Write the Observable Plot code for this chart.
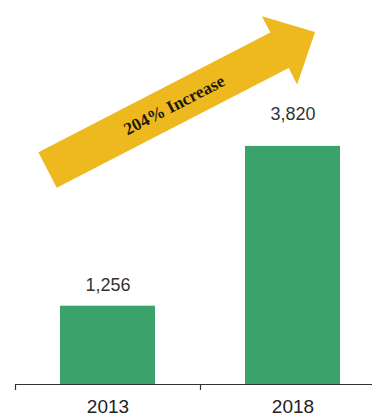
<!DOCTYPE html>
<html>
<head>
<meta charset="utf-8">
<script src="https://cdn.jsdelivr.net/npm/d3@7"></script>
<script src="https://cdn.jsdelivr.net/npm/@observablehq/plot@0.6"></script>
<style>
  html, body { margin: 0; padding: 0; background: #fff; }
  #chart svg { display: block; }
</style>
</head>
<body>
<div id="chart"></div>
<script>
// ---- data ----
const years = ["2013", "2018"];
const values = [1256, 3820];
const valueLabels = ["1,256", "3,820"];
const arrowText = "204% Increase";
// arrow annotation: tail centre and tip, in data units (x = slot index, y = value)
const arrowFrom = [0.176, 3433];
const arrowTo = [1.622, 5647];

const data = years.map((year, i) => ({i, year, value: values[i], label: valueLabels[i]}));

const green = "#3aa26a";
const gold = "#edb91e";

function arrowMark(index, scales, values, dimensions) {
  const x0 = scales.x(arrowFrom[0]), y0 = scales.y(arrowFrom[1]);
  const x1 = scales.x(arrowTo[0]), y1 = scales.y(arrowTo[1]);
  const dx = x1 - x0, dy = y1 - y0, len = Math.hypot(dx, dy);
  const ux = dx / len, uy = dy / len, nx = -uy, ny = ux;
  const shaftHalf = 20, headHalf = 38.5, headLen = 40;
  const bx = x1 - headLen * ux, by = y1 - headLen * uy;
  const pts = [
    [x0 + shaftHalf * nx, y0 + shaftHalf * ny],
    [bx + shaftHalf * nx, by + shaftHalf * ny],
    [bx + headHalf * nx, by + headHalf * ny],
    [x1, y1],
    [bx - headHalf * nx, by - headHalf * ny],
    [bx - shaftHalf * nx, by - shaftHalf * ny],
    [x0 - shaftHalf * nx, y0 - shaftHalf * ny]
  ];
  const g = d3.create("svg:g");
  g.append("path")
    .attr("d", "M" + pts.map(p => p.join(",")).join("L") + "Z")
    .attr("fill", gold);
  const t = 0.473;
  const tx = x0 + t * dx, ty = y0 + t * dy;
  const angle = Math.atan2(dy, dx) * 180 / Math.PI;
  g.append("text")
    .attr("transform", `translate(${tx},${ty}) rotate(${angle})`)
    .attr("text-anchor", "middle")
    .attr("dy", "0.35em")
    .attr("font-family", "'Liberation Serif', 'Times New Roman', serif")
    .attr("font-weight", "bold")
    .attr("font-size", 17.5)
    .attr("fill", "#1e1a10")
    .text(arrowText);
  return g.node();
}

const chart = Plot.plot({
  width: 372,
  height: 416,
  marginLeft: 15,
  marginRight: -13,
  marginTop: 10,
  marginBottom: 32,
  style: {fontFamily: "'Liberation Sans', Arial, sans-serif", background: "#fff"},
  x: {domain: [0, 2], axis: null},
  y: {domain: [0, 6000], axis: null},
  marks: [
    arrowMark,
    Plot.rectY(data, {x1: "i", x2: d => d.i + 1, y: "value", fill: green, insetLeft: 45, insetRight: 45}),
    Plot.ruleY([0], {stroke: "#333", strokeWidth: 1.2}),
    Plot.axisX({ticks: [0, 1, 2], tickSize: 6, tickFormat: () => "", label: null, stroke: "#333", strokeWidth: 1.2}),
    Plot.text(data, {x: d => d.i + 0.5, y: 0, text: "year", dy: 22, fontSize: 19, fill: "#222"}),
    Plot.text(data.filter(d => d.i === 0), {x: d => d.i + 0.5, y: "value", text: "label", lineAnchor: "bottom", dy: -15, fontSize: 18, fill: "#333"}),
    Plot.text(data.filter(d => d.i === 1), {x: d => d.i + 0.5, y: "value", text: "label", lineAnchor: "bottom", dy: -26, fontSize: 18, fill: "#333"})
  ]
});
document.getElementById("chart").appendChild(chart);
</script>
</body>
</html>
